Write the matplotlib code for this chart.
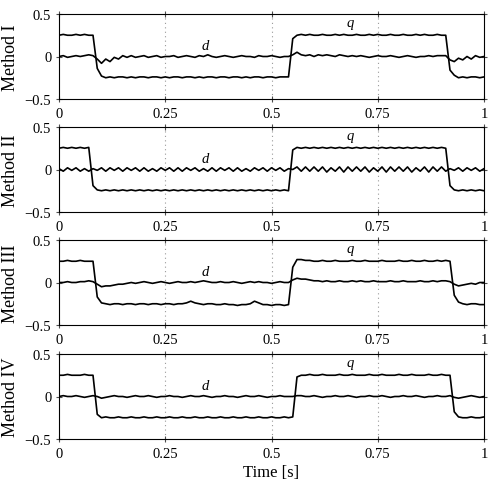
import numpy as np
import matplotlib.pyplot as plt

plt.rcParams['font.family'] = ['Liberation Serif', 'DejaVu Serif']

# sample times [s], 10 ms step
t = np.linspace(0, 1, 101)

methods = ['Method I', 'Method II', 'Method III', 'Method IV']

q1 = [0.25, 0.26, 0.25, 0.25, 0.26, 0.25, 0.26, 0.25, 0.25, -0.14,
      -0.23, -0.25, -0.24, -0.25, -0.24, -0.24, -0.25, -0.24, -0.25, -0.24,
      -0.24, -0.25, -0.24, -0.24, -0.25, -0.24, -0.25, -0.24, -0.24, -0.25,
      -0.24, -0.24, -0.25, -0.24, -0.25, -0.24, -0.24, -0.25, -0.24, -0.24,
      -0.25, -0.24, -0.24, -0.25, -0.24, -0.25, -0.24, -0.24, -0.25, -0.24,
      -0.24, -0.25, -0.24, -0.24, -0.24, 0.21, 0.25, 0.26, 0.25, 0.26,
      0.25, 0.25, 0.26, 0.25, 0.25, 0.26, 0.25, 0.26, 0.25, 0.25,
      0.26, 0.25, 0.25, 0.26, 0.25, 0.26, 0.25, 0.25, 0.26, 0.25,
      0.25, 0.26, 0.25, 0.25, 0.26, 0.25, 0.26, 0.25, 0.25, 0.26,
      0.25, 0.25, -0.16, -0.22, -0.25, -0.24, -0.25, -0.24, -0.24, -0.25,
      -0.24]
d1 = [0.00, 0.01, -0.01, 0.00, 0.01, 0.00, 0.01, 0.02, 0.01, -0.03,
      -0.08, -0.03, -0.06, -0.01, -0.03, 0.01, -0.01, 0.01, -0.01, 0.00,
      0.01, -0.01, 0.00, 0.01, -0.01, 0.00, 0.00, 0.01, -0.01, 0.00,
      0.01, 0.00, -0.01, 0.01, 0.00, 0.02, 0.00, -0.01, 0.00, 0.01,
      0.00, -0.01, 0.00, 0.01, 0.00, 0.00, -0.01, 0.01, 0.00, 0.00,
      0.01, 0.00, -0.01, 0.00, 0.00, 0.02, 0.05, 0.02, 0.01, 0.02,
      0.00, 0.02, 0.01, 0.02, 0.01, 0.00, 0.02, 0.01, 0.00, 0.01,
      0.00, 0.01, 0.00, -0.01, 0.00, 0.01, 0.00, 0.00, 0.01, 0.00,
      -0.01, 0.00, 0.01, 0.00, -0.01, 0.00, 0.00, 0.01, 0.00, 0.01,
      0.01, 0.01, -0.04, -0.06, -0.02, -0.04, 0.00, -0.03, 0.01, -0.01,
      0.00]

q2 = [0.25, 0.26, 0.25, 0.26, 0.25, 0.26, 0.25, 0.26, -0.19, -0.24,
      -0.25, -0.24, -0.25, -0.24, -0.25, -0.24, -0.25, -0.24, -0.25, -0.24,
      -0.25, -0.24, -0.25, -0.24, -0.25, -0.24, -0.25, -0.24, -0.25, -0.24,
      -0.25, -0.24, -0.25, -0.24, -0.25, -0.24, -0.25, -0.24, -0.25, -0.24,
      -0.25, -0.24, -0.25, -0.24, -0.25, -0.24, -0.25, -0.24, -0.25, -0.24,
      -0.25, -0.24, -0.25, -0.24, -0.25, 0.23, 0.26, 0.25, 0.26, 0.25,
      0.26, 0.25, 0.26, 0.25, 0.26, 0.25, 0.26, 0.25, 0.26, 0.25,
      0.26, 0.25, 0.26, 0.25, 0.26, 0.25, 0.26, 0.25, 0.26, 0.25,
      0.26, 0.25, 0.26, 0.25, 0.26, 0.25, 0.26, 0.25, 0.26, 0.25,
      0.26, 0.25, -0.19, -0.24, -0.25, -0.24, -0.25, -0.24, -0.25, -0.24,
      -0.25]
d2 = [0.01, -0.02, 0.02, -0.01, 0.02, -0.02, 0.01, -0.02, 0.01, -0.01,
      0.02, -0.02, 0.02, -0.01, 0.02, -0.02, 0.02, -0.01, 0.02, -0.02,
      0.02, -0.02, 0.01, -0.02, 0.02, -0.01, 0.02, -0.02, 0.02, -0.02,
      0.02, -0.01, 0.02, -0.02, 0.01, -0.02, 0.02, -0.02, 0.02, -0.01,
      0.02, -0.02, 0.02, -0.02, 0.01, -0.02, 0.02, -0.01, 0.02, -0.02,
      0.02, -0.01, 0.02, -0.02, 0.01, 0.00, 0.03, -0.02, 0.03, -0.02,
      0.03, -0.02, 0.03, -0.03, 0.02, -0.02, 0.03, -0.03, 0.03, -0.02,
      0.03, -0.02, 0.03, -0.03, 0.02, -0.02, 0.03, -0.03, 0.03, -0.02,
      0.03, -0.02, 0.03, -0.03, 0.02, -0.02, 0.03, -0.03, 0.03, -0.02,
      0.03, -0.02, 0.01, -0.01, 0.02, -0.02, 0.02, -0.01, 0.02, -0.02,
      0.01]

q3 = [0.25, 0.25, 0.26, 0.25, 0.25, 0.26, 0.25, 0.25, 0.25, -0.17,
      -0.24, -0.25, -0.26, -0.25, -0.25, -0.26, -0.25, -0.25, -0.26, -0.25,
      -0.25, -0.26, -0.25, -0.25, -0.26, -0.25, -0.25, -0.26, -0.25, -0.25,
      -0.24, -0.22, -0.24, -0.25, -0.26, -0.25, -0.25, -0.26, -0.26, -0.25,
      -0.26, -0.26, -0.27, -0.26, -0.26, -0.25, -0.22, -0.24, -0.26, -0.26,
      -0.27, -0.26, -0.26, -0.27, -0.26, 0.18, 0.27, 0.27, 0.26, 0.26,
      0.25, 0.25, 0.26, 0.25, 0.25, 0.26, 0.25, 0.25, 0.25, 0.26,
      0.25, 0.25, 0.26, 0.25, 0.25, 0.25, 0.26, 0.25, 0.25, 0.25,
      0.26, 0.25, 0.25, 0.26, 0.25, 0.25, 0.26, 0.25, 0.25, 0.26,
      0.25, 0.26, 0.25, -0.15, -0.23, -0.25, -0.26, -0.25, -0.25, -0.26,
      -0.26]
d3 = [0.00, 0.00, 0.01, 0.00, 0.00, 0.01, 0.01, 0.02, 0.01, -0.02,
      -0.05, -0.04, -0.04, -0.03, -0.02, -0.02, -0.01, 0.00, -0.01, 0.00,
      0.01, 0.00, -0.01, 0.00, 0.01, 0.00, -0.01, 0.00, 0.01, 0.00,
      0.00, 0.01, 0.00, 0.01, 0.02, 0.01, 0.00, 0.00, 0.01, 0.00,
      0.00, 0.01, 0.00, -0.01, 0.00, 0.01, 0.00, 0.01, 0.00, 0.00,
      -0.01, 0.00, 0.01, 0.00, 0.00, 0.03, 0.05, 0.04, 0.04, 0.03,
      0.02, 0.02, 0.01, 0.02, 0.01, 0.01, 0.02, 0.01, 0.01, 0.02,
      0.01, 0.02, 0.01, 0.01, 0.02, 0.01, 0.01, 0.01, 0.02, 0.01,
      0.01, 0.02, 0.01, 0.01, 0.01, 0.02, 0.01, 0.01, 0.02, 0.01,
      0.02, 0.02, 0.01, -0.02, -0.04, -0.03, -0.02, -0.01, -0.02, 0.00,
      0.00]

q4 = [0.25, 0.25, 0.26, 0.25, 0.25, 0.25, 0.26, 0.25, 0.25, -0.21,
      -0.25, -0.24, -0.25, -0.25, -0.24, -0.25, -0.25, -0.24, -0.25, -0.25,
      -0.24, -0.25, -0.25, -0.24, -0.25, -0.25, -0.24, -0.25, -0.25, -0.24,
      -0.25, -0.25, -0.24, -0.25, -0.25, -0.24, -0.25, -0.25, -0.24, -0.25,
      -0.25, -0.24, -0.25, -0.25, -0.24, -0.25, -0.25, -0.24, -0.25, -0.25,
      -0.24, -0.25, -0.25, -0.24, -0.25, -0.24, 0.23, 0.25, 0.25, 0.26,
      0.25, 0.25, 0.26, 0.25, 0.25, 0.25, 0.26, 0.25, 0.25, 0.26,
      0.25, 0.25, 0.25, 0.26, 0.25, 0.25, 0.26, 0.25, 0.25, 0.25,
      0.26, 0.25, 0.25, 0.26, 0.25, 0.25, 0.25, 0.26, 0.25, 0.25,
      0.26, 0.25, 0.25, -0.18, -0.24, -0.25, -0.25, -0.24, -0.25, -0.25,
      -0.24]
d4 = [0.00, 0.01, 0.00, 0.00, 0.01, 0.00, -0.01, 0.00, 0.01, 0.00,
      -0.02, -0.01, 0.00, 0.01, 0.00, 0.00, -0.01, 0.00, 0.01, 0.00,
      0.00, 0.01, 0.00, -0.01, 0.00, 0.00, 0.01, 0.00, 0.00, -0.01,
      0.00, 0.01, 0.00, 0.00, 0.01, 0.00, -0.01, 0.00, 0.00, 0.01,
      0.00, 0.00, -0.01, 0.00, 0.01, 0.00, 0.00, 0.01, 0.00, -0.01,
      0.00, 0.00, 0.01, 0.00, 0.00, 0.00, 0.01, 0.01, 0.00, 0.00,
      0.01, 0.00, -0.01, 0.00, 0.00, 0.01, 0.00, 0.00, 0.01, 0.00,
      -0.01, 0.00, 0.00, 0.01, 0.00, 0.00, 0.01, 0.00, -0.01, 0.00,
      0.00, 0.01, 0.00, 0.00, 0.01, 0.00, -0.01, 0.00, 0.00, 0.01,
      0.00, 0.00, 0.01, -0.01, -0.02, -0.01, 0.00, 0.01, 0.00, -0.01,
      0.00]

q_all = [q1, q2, q3, q4]
d_all = [d1, d2, d3, d4]

xticks = [0, 0.25, 0.5, 0.75, 1]
xticklabels = ['0', '0.25', '0.5', '0.75', '1']
yticks = [-0.5, 0, 0.5]
yticklabels = ['\u22120.5', '0', '0.5']

W, H = 493, 485
fig = plt.figure(figsize=(W / 100, H / 100), dpi=100)

# axes boxes in pixels: (top, bottom)
boxes = [(15, 100), (128, 213), (241, 326), (355, 440)]
left, right = 59, 484

for i, (top, bot) in enumerate(boxes):
    ax = fig.add_axes([left / W, 1 - bot / H, (right - left) / W, (bot - top) / H])
    for xv in [0.25, 0.5, 0.75]:
        ax.axvline(xv, color='0.6', lw=0.8, ls=(0, (1, 3)), zorder=0)
    ax.plot(t, q_all[i], color='k', lw=1.2)
    ax.plot(t, d_all[i], color='k', lw=1.2)
    ax.text(0.685, 0.40, 'q', fontstyle='italic', fontsize=10.5,
            ha='center', va='center')
    ax.text(0.345, 0.13, 'd', fontstyle='italic', fontsize=10.5,
            ha='center', va='center')
    ax.set_xlim(0, 1)
    ax.set_ylim(-0.5, 0.5)
    ax.set_xticks(xticks)
    ax.set_xticklabels(xticklabels)
    ax.set_yticks(yticks)
    ax.set_yticklabels(yticklabels)
    ax.tick_params(direction='inout', length=5, width=0.8, color='0.3',
                   top=True, right=True, labelsize=10.5, pad=3)
    for s in ax.spines.values():
        s.set_linewidth(0.8)
    ax.set_ylabel(methods[i], fontsize=13)
    ax.yaxis.set_label_coords(-0.094, 0.5)
    if i == 3:
        ax.set_xlabel('Time [s]', fontsize=12, labelpad=3)

fig.savefig('out.png', dpi=100)
